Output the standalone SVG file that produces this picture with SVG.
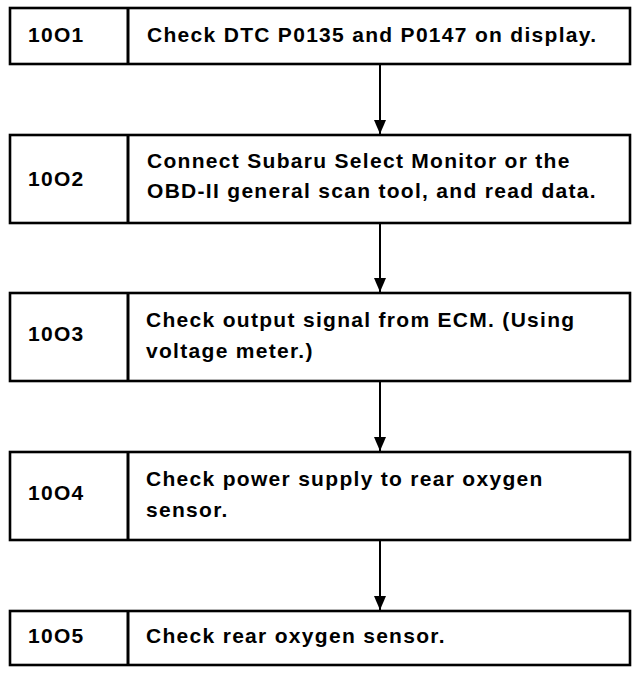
<svg xmlns="http://www.w3.org/2000/svg" width="640" height="674" viewBox="0 0 640 674">
<style>
.box{fill:#fff;stroke:#000;stroke-width:2.6}
.div{stroke:#000;stroke-width:3}
.t{font-family:"Liberation Sans",Arial,sans-serif;font-weight:bold;font-size:21px;letter-spacing:1.3px;fill:#000}
.c{stroke:#000;stroke-width:2;fill:none}
</style>
<defs>
<marker id="ah" viewBox="0 0 14 12" refX="14" refY="6" markerWidth="14" markerHeight="12" markerUnits="userSpaceOnUse" orient="auto">
<path d="M0,0 L14,6 L0,12 Z" fill="#000"/>
</marker>
</defs>
<rect width="640" height="674" fill="#fff"/>
<g id="connectors">
<line class="c" x1="380" y1="65" x2="380" y2="134" marker-end="url(#ah)"/>
<line class="c" x1="380" y1="224" x2="380" y2="292" marker-end="url(#ah)"/>
<line class="c" x1="380" y1="382" x2="380" y2="451" marker-end="url(#ah)"/>
<line class="c" x1="380" y1="541" x2="380" y2="610" marker-end="url(#ah)"/>
</g>
<g id="n1">
<rect class="box" x="10" y="8" width="620" height="56"/>
<line class="div" x1="128" y1="8" x2="128" y2="64"/>
<text class="t" x="28" y="42">10O1</text>
<text class="t" x="147" y="42">Check DTC P0135 and P0147 on display.</text>
</g>
<g id="n2">
<rect class="box" x="10" y="135" width="620" height="88"/>
<line class="div" x1="128" y1="135" x2="128" y2="223"/>
<text class="t" x="28" y="186">10O2</text>
<text class="t" x="147" y="168">Connect Subaru Select Monitor or the</text>
<text class="t" x="147" y="198">OBD-II general scan tool, and read data.</text>
</g>
<g id="n3">
<rect class="box" x="10" y="293" width="620" height="88"/>
<line class="div" x1="128" y1="293" x2="128" y2="381"/>
<text class="t" x="28" y="341">10O3</text>
<text class="t" x="146" y="327">Check output signal from ECM. (Using</text>
<text class="t" x="146" y="358">voltage meter.)</text>
</g>
<g id="n4">
<rect class="box" x="10" y="452" width="620" height="88"/>
<line class="div" x1="128" y1="452" x2="128" y2="540"/>
<text class="t" x="28" y="500">10O4</text>
<text class="t" x="146" y="486">Check power supply to rear oxygen</text>
<text class="t" x="146" y="517">sensor.</text>
</g>
<g id="n5">
<rect class="box" x="10" y="611" width="620" height="54"/>
<line class="div" x1="128" y1="611" x2="128" y2="665"/>
<text class="t" x="28" y="643">10O5</text>
<text class="t" x="146" y="643">Check rear oxygen sensor.</text>
</g>
</svg>
